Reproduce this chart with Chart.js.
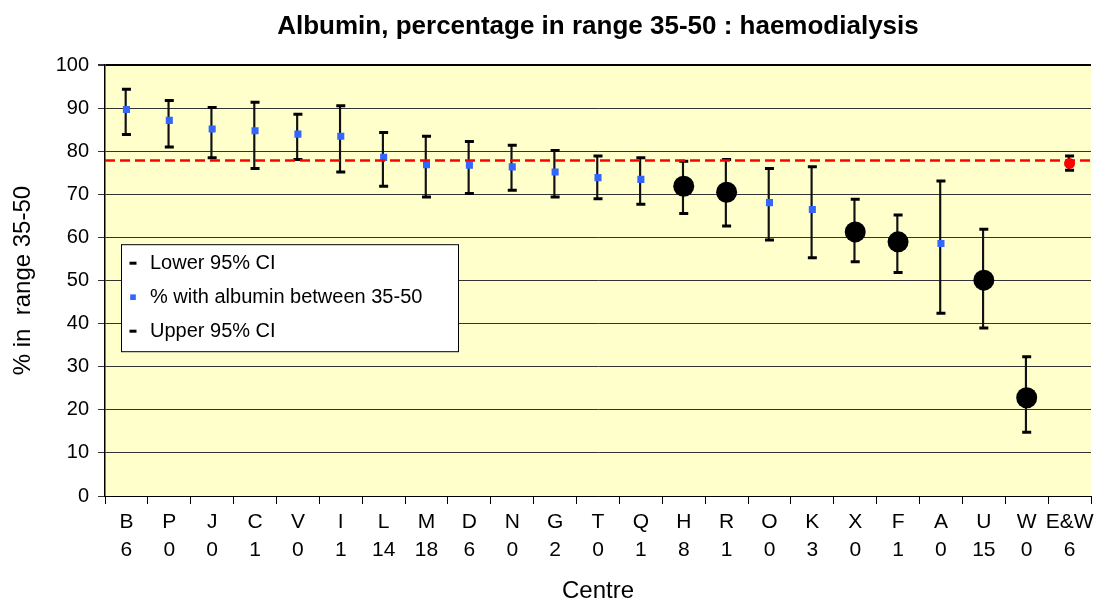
<!DOCTYPE html>
<html>
<head>
<meta charset="utf-8">
<title>Albumin, percentage in range 35-50 : haemodialysis</title>
<script src="https://cdn.jsdelivr.net/npm/chart.js@4.4.0/dist/chart.umd.min.js"></script>
<style>
  html, body { margin: 0; padding: 0; background: #fff; }
</style>
</head>
<body>
<canvas id="albuminChart" width="1096" height="606"></canvas>
<script>
// Centres and the number of patients shown under each letter
const centres = ['B', 'P', 'J', 'C', 'V', 'I', 'L', 'M', 'D', 'N', 'G', 'T', 'Q', 'H', 'R', 'O', 'K', 'X', 'F', 'A', 'U', 'W', 'E&W'];
const counts = ['6', '0', '0', '1', '0', '1', '14', '18', '6', '0', '2', '0', '1', '8', '1', '0', '3', '0', '1', '0', '15', '0', '6'];

// 95% confidence limits
const lowerCI = [83.9, 81.0, 78.5, 76.0, 78.1, 75.2, 71.9, 69.4, 70.2, 71.0, 69.4, 69.0, 67.7, 65.6, 62.7, 59.4, 55.3, 54.4, 51.9, 42.4, 39.0, 14.8, 75.6];
const upperCI = [94.4, 91.8, 90.2, 91.4, 88.6, 90.6, 84.4, 83.5, 82.3, 81.4, 80.2, 78.9, 78.5, 77.7, 78.1, 76.0, 76.4, 68.9, 65.2, 73.1, 61.9, 32.3, 78.9];

// % with albumin between 35-50 (blue squares)
const percentInRange = [89.7, 87.2, 85.2, 84.8, 84.0, 83.5, 78.6, 76.9, 76.8, 76.4, 75.2, 73.9, 73.5, null, null, 68.1, 66.5, null, null, 58.6, null, null, null];
// centres flagged below the national figure (big black circles)
const flaggedPercent = [null, null, null, null, null, null, null, null, null, null, null, null, null, 71.9, 70.5, null, null, 61.3, 59.0, null, 50.1, 22.8, null];
// England & Wales overall (red dot)
const ewPercent = [null, null, null, null, null, null, null, null, null, null, null, null, null, null, null, null, null, null, null, null, null, null, 77.2];
const ewAverage = 77.9;

const yTicks = [0, 10, 20, 30, 40, 50, 60, 70, 80, 90, 100];

Chart.defaults.font.family = "'Liberation Sans', Arial, sans-serif";
Chart.defaults.color = '#000';

// yellow plot area
const plotBackground = {
    id: 'plotBackground',
    beforeDraw(chart) {
        const { ctx, chartArea } = chart;
        ctx.save();
        ctx.fillStyle = '#ffffcc';
        ctx.fillRect(chartArea.left, chartArea.top, chartArea.right - chartArea.left, chartArea.bottom - chartArea.top);
        ctx.restore();
    }
};

// boxed legend sitting inside the plot, like the original
const boxLegend = {
    id: 'boxLegend',
    afterDatasetsDraw(chart, args, opts) {
        const { ctx, chartArea } = chart;
        const x0 = chartArea.left + opts.left;
        const y0 = chartArea.top + opts.top;
        ctx.save();
        ctx.fillStyle = '#fff';
        ctx.fillRect(x0, y0, opts.width, opts.height);
        ctx.strokeStyle = '#000';
        ctx.lineWidth = 1;
        ctx.strokeRect(x0 + 0.5, y0 + 0.5, opts.width, opts.height);

        const items = chart.data.datasets.filter((d) => d.inLegend);
        items.forEach((d, i) => {
            const y = y0 + opts.firstRow + i * opts.rowGap;
            ctx.fillStyle = d.pointBackgroundColor;
            ctx.strokeStyle = d.pointBorderColor;
            ctx.lineWidth = d.pointBorderWidth;
            Chart.helpers.drawPoint(ctx, {
                pointStyle: d.pointStyle,
                radius: d.legendRadius,
                borderWidth: d.pointBorderWidth,
                rotation: 0
            }, x0 + opts.markerX, y);
            ctx.fillStyle = '#000';
            ctx.font = opts.font;
            ctx.textAlign = 'left';
            ctx.textBaseline = 'middle';
            ctx.fillText(d.label, x0 + opts.textX, y);
        });
        ctx.restore();
    }
};

const ctx = document.getElementById('albuminChart');

new Chart(ctx, {
    type: 'bar',
    data: {
        labels: centres.map((c, i) => [c, counts[i]]),
        datasets: [
            {
                label: 'Lower 95% CI',
                type: 'line',
                data: lowerCI,
                showLine: false,
                pointStyle: 'line',
                pointRadius: 4.5,
                pointBorderWidth: 3,
                pointBorderColor: '#000',
                pointBackgroundColor: '#000',
                legendRadius: 3.5,
                inLegend: true,
                order: 5
            },
            {
                label: '% with albumin between 35-50',
                type: 'line',
                data: percentInRange,
                showLine: false,
                pointStyle: 'rect',
                pointRadius: 5,
                pointBorderWidth: 0,
                pointBorderColor: '#3366ff',
                pointBackgroundColor: '#3366ff',
                legendRadius: 4,
                inLegend: true,
                order: 4
            },
            {
                label: 'Upper 95% CI',
                type: 'line',
                data: upperCI,
                showLine: false,
                pointStyle: 'line',
                pointRadius: 4.5,
                pointBorderWidth: 3,
                pointBorderColor: '#000',
                pointBackgroundColor: '#000',
                legendRadius: 3.5,
                inLegend: true,
                order: 5
            },
            {
                label: 'CI range',
                type: 'bar',
                data: lowerCI.map((lo, i) => [lo, upperCI[i]]),
                backgroundColor: '#111',
                barThickness: 1.5,
                order: 6
            },
            {
                label: 'Flagged',
                type: 'line',
                data: flaggedPercent,
                showLine: false,
                pointStyle: 'circle',
                pointRadius: 10.5,
                pointBorderWidth: 0,
                pointBackgroundColor: '#000',
                order: 3
            },
            {
                label: 'E&W average',
                type: 'line',
                xAxisID: 'xLine',
                data: [{ x: 0, y: ewAverage }, { x: centres.length, y: ewAverage }],
                borderColor: '#ff0000',
                borderWidth: 2.5,
                borderDash: [10, 5],
                pointRadius: 0,
                order: 2
            },
            {
                label: 'E&W',
                type: 'line',
                data: ewPercent,
                showLine: false,
                pointStyle: 'circle',
                pointRadius: 5.5,
                pointBorderWidth: 0,
                pointBackgroundColor: '#ff0000',
                order: 1
            }
        ]
    },
    options: {
        responsive: false,
        animation: false,
        events: [],
        layout: { autoPadding: false, padding: { left: 0, right: 5, top: 0, bottom: 0 } },
        plugins: {
            legend: { display: false },
            tooltip: { enabled: false },
            title: {
                display: true,
                text: 'Albumin, percentage in range 35-50 : haemodialysis',
                fullSize: false,
                color: '#000',
                font: { size: 26, weight: 'bold' },
                padding: { top: 11, bottom: 23 }
            },
            boxLegend: {
                left: 16,
                top: 179,
                width: 337,
                height: 107,
                firstRow: 19,
                rowGap: 34,
                markerX: 12,
                textX: 29,
                font: "20px 'Liberation Sans', Arial, sans-serif"
            }
        },
        scales: {
            x: {
                type: 'category',
                offset: true,
                grid: { offset: true, drawOnChartArea: false, drawTicks: true, tickLength: 8, color: '#000' },
                border: { display: true, color: '#000', width: 1 },
                ticks: {
                    autoSkip: false,
                    maxRotation: 0,
                    padding: 5,
                    color: '#000',
                    font: { size: 21, lineHeight: 1.3 }
                },
                title: {
                    display: true,
                    text: 'Centre',
                    color: '#000',
                    font: { size: 24 },
                    padding: { top: 0, bottom: 0 }
                },
                afterFit(scale) {
                    scale.height = 110;
                    scale.paddingLeft = 0;
                    scale.paddingRight = 0;
                }
            },
            xLine: {
                type: 'linear',
                display: false,
                offset: false,
                grid: { offset: false },
                min: 0,
                max: centres.length
            },
            y: {
                min: 0,
                max: 100,
                afterBuildTicks(scale) { scale.ticks = yTicks.map((v) => ({ value: v })); },
                grid: {
                    color: (c) => (c.tick && c.tick.value === 100 ? '#000' : '#333'),
                    lineWidth: (c) => (c.tick && c.tick.value === 100 ? 2 : 1),
                    drawTicks: true,
                    tickLength: 7,
                    tickColor: '#333'
                },
                border: { display: true, color: '#000', width: 1.5 },
                ticks: { padding: 9, color: '#000', font: { size: 20 } },
                title: {
                    display: true,
                    text: '% in  range 35-50',
                    color: '#000',
                    font: { size: 24 },
                    padding: { top: 9, bottom: 0 }
                },
                afterFit(scale) { scale.width = 105; }
            }
        }
    },
    plugins: [plotBackground, boxLegend]
});
</script>
</body>
</html>
